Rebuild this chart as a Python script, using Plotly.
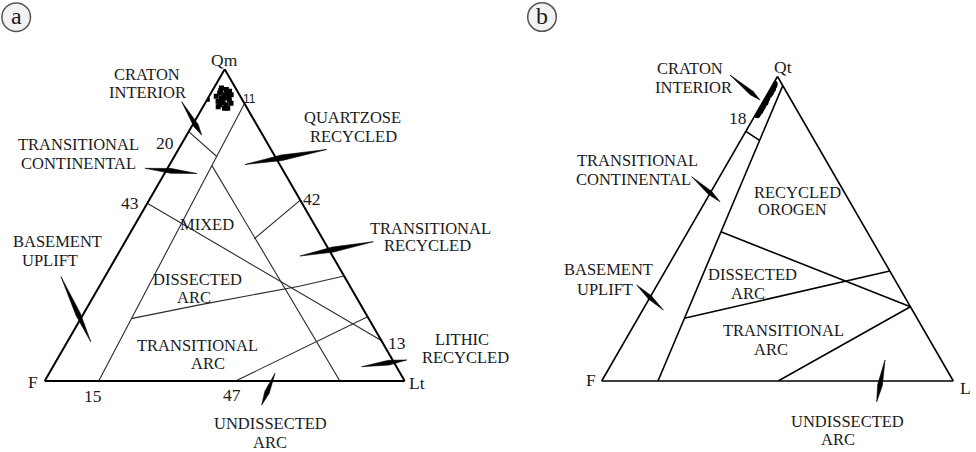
import math
import plotly.graph_objects as go

W, H = 976, 452

# ---------------- DATA ----------------
# Panel a: Qm-F-Lt (percent)
a_qm = [94.0, 93.5, 92.9, 92.4, 91.8, 91.8, 91.3, 90.8, 90.8, 89.7, 89.7, 90.2, 88.6, 88.6, 87.5, 87.5, 88.0, 89.1, 93.2, 91.0, 89.2, 92.0]
a_f  = [3.9, 2.8, 2.2, 5.2, 4.1, 2.3, 6.7, 5.5, 3.7, 7.0, 5.6, 3.6, 7.1, 5.3, 6.3, 5.4, 7.8, 3.7, 4.5, 4.6, 6.2, 3.3]
a_lt = [2.1, 3.7, 4.9, 2.4, 4.1, 5.9, 2.0, 3.7, 5.5, 3.3, 4.7, 6.2, 4.3, 6.1, 6.2, 7.1, 4.2, 7.2, 2.3, 4.4, 4.6, 4.7]
a_out_qm, a_out_f, a_out_lt = [90.2], [9.6], [0.2]

# Panel a field boundaries [Qm, F, Lt]
a_bounds = {
    "continental_arc": ([89, 0], [0, 85], [11, 15]),
    "craton_transitional": ([80, 72], [20, 16.2], [0, 11.8]),
    "mixed_recycled": ([69, 0], [19, 18], [12, 82]),
    "mixed_dissected": ([57, 13], [43, 0], [0, 87]),
    "quartzose_transitional": ([58, 45.6], [0, 19], [42, 35.4]),
    "dissected_transitional": ([20, 24.5, 30.4, 33.7], [66, 44.4, 14.1, 0], [14, 31.1, 55.5, 66.3]),
    "transitional_undissected": ([0, 20.6], [47, 0], [53, 79.4]),
}

# Panel b: Qt-F-L (percent)
b_qt = [97.6, 97.0, 96.4, 95.8, 95.2, 94.5, 93.9, 92.8, 92.1, 91.4, 90.7, 90.0, 89.3, 88.6, 87.9, 87.3]
b_f  = [2.0, 2.4, 3.1, 3.4, 4.1, 4.7, 5.4, 6.5, 7.2, 7.7, 8.6, 9.2, 9.9, 10.6, 11.4, 12.1]
b_l  = [0.4, 0.6, 0.5, 0.8, 0.7, 0.8, 0.7, 0.7, 0.7, 0.9, 0.7, 0.8, 0.8, 0.8, 0.7, 0.6]

# Panel b field boundaries [Qt, F, L]
b_bounds = {
    "continental_arc": ([97, 0], [0, 84], [3, 16]),
    "craton_transitional": ([82, 79], [18, 15.6], [0, 5.4]),
    "recycled_dissected": ([49, 24.4], [41.6, 0], [9.4, 75.6]),
    "dissected_transitional": ([20.6, 36.1], [66.2, 0], [13.2, 63.9]),
    "transitional_undissected": ([0, 24.4], [49.8, 0], [50.2, 75.6]),
}

# ---------------- FIGURE ----------------
def px(x, y):
    return x / W, 1 - y / H

fig = go.Figure()

for name, (q, f, l) in a_bounds.items():
    fig.add_trace(go.Scatterternary(a=q, b=f, c=l, mode="lines", subplot="ternary",
                                    line=dict(color="#2b2b2b", width=1.1), hoverinfo="skip", showlegend=False))
fig.add_trace(go.Scatterternary(a=a_qm, b=a_f, c=a_lt, mode="markers", subplot="ternary",
                                marker=dict(symbol="square", size=5, color="black"), showlegend=False))
fig.add_trace(go.Scatterternary(a=a_out_qm, b=a_out_f, c=a_out_lt, mode="markers", subplot="ternary",
                                marker=dict(symbol="square", size=4, color="black"), showlegend=False))

for name, (q, f, l) in b_bounds.items():
    fig.add_trace(go.Scatterternary(a=q, b=f, c=l, mode="lines", subplot="ternary2",
                                    line=dict(color="black", width=1.6), hoverinfo="skip", showlegend=False))
fig.add_trace(go.Scatterternary(a=b_qt, b=b_f, c=b_l, mode="markers", subplot="ternary2",
                                marker=dict(symbol="circle", size=6, color="black"), showlegend=False))


def axis(lw):
    return dict(title=dict(text=""), showticklabels=False, ticks="", showgrid=False,
                linecolor="black", linewidth=lw, showline=True, min=0)


def tern(x0, x1, bottom, width, lw):
    h = width * math.sqrt(3) / 2
    return dict(domain=dict(x=[x0 / W, x1 / W], y=[(H - bottom) / H, (H - bottom + h) / H]),
                sum=100, bgcolor="white", aaxis=axis(lw), baxis=axis(lw), caxis=axis(lw))


annotations = []


def label(text, x, y, size=16.5, family="Liberation Serif"):
    xp, yp = px(x, y)
    annotations.append(dict(text=text, x=xp, y=yp, xref="paper", yref="paper", showarrow=False,
                            font=dict(family=family, size=size, color="#1a1a1a"),
                            xanchor="center", yanchor="middle"))


# panel a texts
for t, x, y, s in [("Qm", 224, 60, 17.5), ("CRATON", 147, 74, 16.5), ("INTERIOR", 147, 93, 16.5),
                   ("QUARTZOSE", 352, 117, 16.5), ("RECYCLED", 353, 136, 16.5), ("20", 165, 143, 17.5),
                   ("TRANSITIONAL", 78, 144, 16.5), ("CONTINENTAL", 78, 163, 16.5), ("43", 130, 203, 17.5),
                   ("42", 312, 199, 17.5), ("MIXED", 207, 225, 16.5), ("TRANSITIONAL", 430, 228, 16.5),
                   ("RECYCLED", 427, 246, 16.5), ("BASEMENT", 57, 241, 16.5), ("UPLIFT", 50, 260, 16.5),
                   ("DISSECTED", 197, 279, 16.5), ("ARC", 194, 297, 16.5), ("13", 397, 343, 17.5),
                   ("LITHIC", 462, 339, 16.5), ("RECYCLED", 465, 357, 16.5), ("TRANSITIONAL", 197, 345, 16.5),
                   ("ARC", 208, 363, 16.5), ("F", 33, 382, 17.5), ("Lt", 417, 383, 17.5), ("15", 93, 396, 17.5),
                   ("47", 232, 395, 17.5), ("UNDISSECTED", 270, 423, 16.5), ("ARC", 270, 442, 16.5)]:
    label(t, x, y, s)
label("11", 249, 99, 12, "Liberation Sans")

# panel b texts
for t, x, y, s in [("Qt", 783, 67, 17.5), ("CRATON", 690, 68, 16.5), ("INTERIOR", 693, 87, 16.5),
                   ("18", 738, 118, 17.5), ("TRANSITIONAL", 637, 160, 16.5), ("CONTINENTAL", 633, 179, 16.5),
                   ("RECYCLED", 797, 192, 16.5), ("OROGEN", 792, 210, 16.5), ("BASEMENT", 608, 269, 16.5),
                   ("UPLIFT", 605, 289, 16.5), ("DISSECTED", 752, 274, 16.5), ("ARC", 748, 293, 16.5),
                   ("TRANSITIONAL", 783, 330, 16.5), ("ARC", 771, 349, 16.5), ("F", 591, 380, 17.5),
                   ("L", 965, 388, 17.5), ("UNDISSECTED", 847, 421, 16.5), ("ARC", 838, 439, 16.5)]:
    label(t, x, y, s)

# panel letters
shapes = []
for letter, cx, cy in [("a", 16.2, 17.2), ("b", 542, 17)]:
    r = 14.3
    x0, y0 = px(cx - r, cy + r)
    x1, y1 = px(cx + r, cy - r)
    shapes.append(dict(type="circle", xref="paper", yref="paper", x0=x0, y0=y0, x1=x1, y1=y1,
                       line=dict(color="#555555", width=1.5), fillcolor="#f2f2f2"))
    label(letter, cx, cy - 1, 24)


def spindle(x0, y0, x1, y1, f, hw):
    dx, dy = x1 - x0, y1 - y0
    L = math.hypot(dx, dy)
    nx, ny = -dy / L, dx / L
    bx, by = x0 + dx * f, y0 + dy * f
    pts = [(x0, y0), (bx + nx * hw, by + ny * hw), (x1, y1), (bx - nx * hw, by - ny * hw)]
    path = "M " + " L ".join("%.5f,%.5f" % px(x, y) for x, y in pts) + " Z"
    shapes.append(dict(type="path", xref="paper", yref="paper", path=path,
                       fillcolor="black", line=dict(color="black", width=0.6)))


for args in [(181.7, 101.7, 201.7, 135, 0.72, 2.4), (145, 168.3, 197, 173.5, 0.5, 2.4),
             (61, 276.7, 90.7, 341.7, 0.58, 2.4), (326.7, 149.5, 245, 164.5, 0.55, 2.8),
             (373.3, 241.7, 300, 256, 0.55, 2.6), (406.7, 360, 361.7, 366.7, 0.4, 2.4),
             (261.7, 405, 275, 373.3, 0.4, 2.4),
             (730, 75, 760, 100, 0.72, 2.2), (691.7, 176.7, 720, 201.7, 0.65, 2.2),
             (636.7, 285, 663.3, 310, 0.5, 2.2), (876.7, 401.7, 885, 360, 0.4, 2.4)]:
    spindle(*args)

fig.update_layout(
    width=W, height=H, autosize=False,
    margin=dict(l=0, r=0, t=0, b=0),
    paper_bgcolor="white", plot_bgcolor="white",
    showlegend=False,
    ternary=tern(44.7, 404.7, 381, 360, 2),
    ternary2=tern(601.7, 953.3, 381, 351.6, 1.6),
    annotations=annotations,
    shapes=shapes,
)

fig.write_html("out.html", config={"displayModeBar": False},
               post_script="document.body.style.margin='0';document.body.style.overflow='hidden';")
